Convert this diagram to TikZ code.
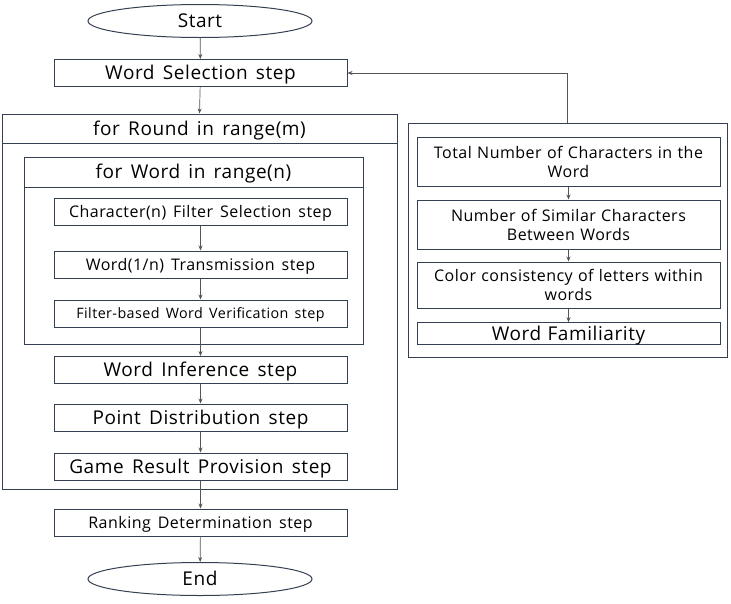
\documentclass[tikz,border=0pt]{standalone}
\usepackage{fontspec}
\setmainfont{Open Sans}[LetterSpace=3,WordSpace=1.5]
\usetikzlibrary{arrows.meta,shapes.geometric}
\definecolor{boxline}{RGB}{52,64,82}
\definecolor{arrowline}{RGB}{85,85,85}

\newcommand{\bigtxt}{\fontsize{19}{21}\selectfont}
\newcommand{\midtxt}{\fontsize{16}{19}\selectfont}
\newcommand{\smltxt}{\fontsize{14.3}{17}\selectfont}

\tikzset{
  bigfont/.style={font=\bigtxt, text height=17.6pt, text depth=4pt},
  midfont/.style={font=\midtxt, text height=15.4pt, text depth=4pt},
  smlfont/.style={font=\smltxt, text height=13.7pt, text depth=3.5pt},
  stepbox/.style={draw=boxline, line width=1pt, minimum width=293, minimum height=27, inner sep=0pt},
  critbox/.style={draw=boxline, line width=1pt, minimum width=303, inner sep=0pt, text width=300, align=center},
  loopframe/.style={draw=boxline, line width=1pt, inner sep=0pt},
  terminal/.style={draw=boxline, line width=1pt, ellipse, minimum width=224, minimum height=33, inner sep=0pt},
  flow/.style={draw=arrowline, line width=0.7pt, -{Stealth[length=5pt,width=4pt]}}
}

\begin{document}
\begin{tikzpicture}[x=1pt,y=-1pt]
\useasboundingbox (0,0) rectangle (731,603);

% main column
\node[terminal, bigfont] (start) at (200,21) {Start};
\node[stepbox, bigfont] (select) at (200.5,73) {Word Selection step};

% for Round loop
\node[loopframe, minimum width=395, minimum height=375] (roundloop) at (199.5,301.5) {};
\node[loopframe, minimum width=395, minimum height=29, anchor=north, bigfont] (roundhead) at (roundloop.north) {for Round in range(m)};

% for Word loop
\node[loopframe, minimum width=339, minimum height=187] (wordloop) at (193.5,250.5) {};
\node[loopframe, minimum width=339, minimum height=30, anchor=north, bigfont] (wordhead) at (wordloop.north) {for Word in range(n)};

\node[stepbox, midfont] (filtersel) at (200.5,212) {Character(n) Filter Selection step};
\node[stepbox, midfont] (transmit) at (200.5,264.5) {Word(1/n) Transmission step};
\node[stepbox, smlfont] (verify) at (200.5,313.5) {Filter-based Word Verification step};

\node[stepbox, bigfont] (infer) at (200.5,370) {Word Inference step};
\node[stepbox, bigfont] (points) at (200.5,417.5) {Point Distribution step};
\node[stepbox, bigfont] (result) at (200.5,466.5) {Game Result Provision step};

\node[stepbox, midfont] (rank) at (200.5,522.5) {Ranking Determination step};
\node[terminal, bigfont] (end) at (200,579) {End};

% criteria panel
\node[loopframe, minimum width=319, minimum height=234] (criteria) at (567.5,240) {};
\node[critbox, minimum height=49, font=\midtxt] (total) at (568.5,161.5) {Total Number of Characters in the\\Word};
\node[critbox, minimum height=49, font=\midtxt] (similar) at (568.5,224.5) {Number of Similar Characters\\Between Words};
\node[critbox, minimum height=46, font=\midtxt] (colour) at (568.5,285) {Color consistency of letters within\\words};
\node[critbox, minimum height=21, bigfont] (familiar) at (568.5,333.5) {Word Familiarity};

% connectors
\draw[flow] (start) -- (select);
\draw[flow] (select) -- (roundloop.north);
\draw[flow] (filtersel) -- (transmit);
\draw[flow] (transmit) -- (verify);
\draw[flow] (verify) -- (infer);
\draw[flow] (infer) -- (points);
\draw[flow] (points) -- (result);
\draw[flow] (result) -- (rank);
\draw[flow] (rank) -- (end);

\draw[flow] (total) -- (similar);
\draw[flow] (similar) -- (colour);
\draw[flow] (colour) -- (familiar);
\draw[flow] (criteria.north) |- (select.east);
\end{tikzpicture}
\end{document}
